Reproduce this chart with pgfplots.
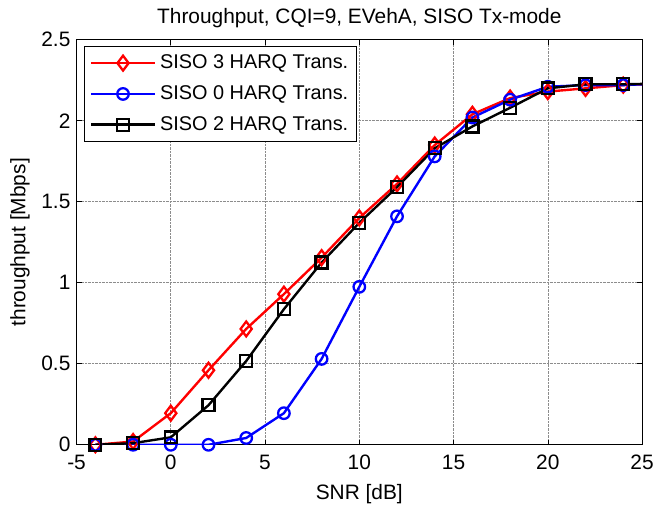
\documentclass[border=0pt]{standalone}
\usepackage{fontspec}
\setmainfont{Liberation Sans}
\usepackage{pgfplots}
\pgfplotsset{compat=1.18}
\begin{document}
\begin{tikzpicture}
\begin{axis}[
    name=main,
    scale only axis,
    width=569pt, height=407.5pt,
    font=\fontsize{21}{24}\selectfont,
    /pgf/number format/assume math mode=true,
    title={Throughput, CQI=9, EVehA, SISO Tx-mode},
    title style={at={(axis description cs:0.5,1)}, anchor=base, yshift=10pt},
    xlabel={SNR [dB]},
    ylabel={throughput [Mbps]},
    x label style={at={(axis description cs:0.5,0)}, anchor=base, yshift=-55pt},
    y label style={at={(axis description cs:-0.1,0.5)}, anchor=center},
    xmin=-5, xmax=25,
    ymin=0, ymax=2.5,
    xtick={-5,0,5,10,15,20,25},
    ytick={0,0.5,1,1.5,2,2.5},
    yticklabels={0,0.5,1,1.5,2,2.5},
    x tick label style={anchor=base, yshift=-25pt},
    y tick label style={anchor=east, inner sep=0pt, xshift=-6pt},
    tick align=inside,
    major tick length=5pt,
    tick style={black, line width=0.6pt},
    axis line style={line width=1pt},
    grid=major,
    grid style={densely dotted, gray!90, line width=0.6pt},
    every axis plot/.append style={line width=2.4pt},
    clip=true,
    legend cell align=left,
    legend style={at={(axis description cs:0.014,0.984)}, anchor=north west,
        draw=black, line width=1pt, inner xsep=5pt, inner ysep=1pt,
        row sep=0pt, column sep=1pt,
        font=\fontsize{20}{22}\selectfont,
        nodes={inner sep=3pt, text height=18pt, text depth=7pt}},
    legend image code/.code={
        \draw[#1, line width=2.6pt, mark indices={2}] plot coordinates {(0pt,0pt) (32pt,0pt) (64pt,0pt)};
    },
]
\addplot[red, line width=2.4pt, mark=diamond, mark size=7.5pt, mark indices={1,...,15},
    mark options={solid, line width=2.3pt}]
    coordinates {
    (-4,0)(-2,0.02)(0,0.195)(2,0.46)(4,0.715)(6,0.93)(8,1.155)(10,1.40)
    (12,1.61)(14,1.85)(16,2.04)(18,2.14)(20,2.18)(22,2.20)(24,2.22)(26,2.23)
    };
\addlegendentry{SISO 3 HARQ Trans.\hspace{26pt}}
\addplot[blue, line width=2.4pt, mark=o, mark size=5.8pt, mark indices={1,...,15},
    mark options={solid, line width=2.3pt}]
    coordinates {
    (-4,0)(-2,0)(0,0)(2,0)(4,0.042)(6,0.195)(8,0.53)(10,0.975)
    (12,1.41)(14,1.78)(16,2.02)(18,2.13)(20,2.21)(22,2.22)(24,2.22)(26,2.23)
    };
\addlegendentry{SISO 0 HARQ Trans.\hspace{26pt}}
\addplot[black, line width=2.4pt, mark=square, mark size=6pt, mark indices={1,...,15},
    mark options={solid, line width=2.3pt}]
    coordinates {
    (-4,0)(-2,0.01)(0,0.046)(2,0.244)(4,0.517)(6,0.837)(8,1.125)(10,1.37)
    (12,1.59)(14,1.83)(16,1.965)(18,2.08)(20,2.20)(22,2.225)(24,2.225)(26,2.23)
    };
\addlegendentry{SISO 2 HARQ Trans.\hspace{26pt}}
\end{axis}
\path (main.south west) ++(-77pt,-58.5pt) coordinate (bl);
\path (main.north east) ++(12pt,40pt) coordinate (tr);
\path (bl) rectangle (tr);
\end{tikzpicture}
\end{document}
